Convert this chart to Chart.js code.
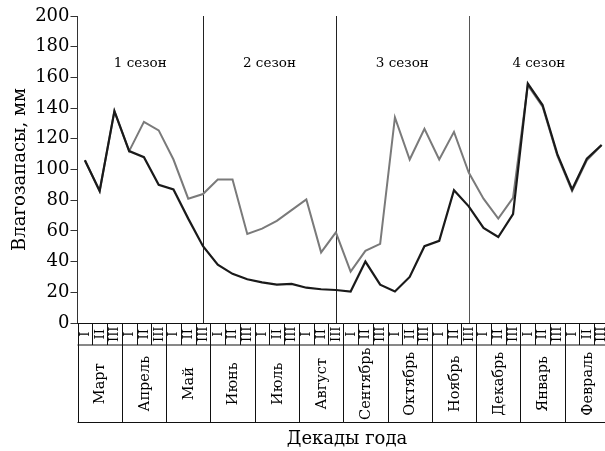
<!DOCTYPE html>
<html lang="ru">
<head>
<meta charset="utf-8">
<script src="https://cdn.jsdelivr.net/npm/chart.js@4.4.1/dist/chart.umd.min.js"></script>
<style>
  html, body { margin: 0; padding: 0; background: #fff; overflow: hidden; }
</style>
</head>
<body>
<canvas id="moistureChart" width="610" height="451"></canvas>
<script>
// Months of the hydrological year, starting from March
const months = ['Март', 'Апрель', 'Май', 'Июнь', 'Июль', 'Август',
  'Сентябрь', 'Октябрь', 'Ноябрь', 'Декабрь', 'Январь', 'Февраль'];
const decadeNames = ['I', 'II', 'III'];
const seasonNames = ['1 сезон', '2 сезон', '3 сезон', '4 сезон'];
// decade index where each season ends (divider line)
const seasonEnds = [8, 17, 26];

// moisture reserve, mm, by decade (36 values)
const reserveBlack = [106, 86, 138, 112, 108, 90, 87, 68, 50,
  38, 32, 28.5, 26.5, 25, 25.5, 23, 22, 21.5,
  20.5, 40, 25, 20.5, 30, 50, 53.5, 86.5, 76,
  62, 56, 71, 156, 142, 110, 87, 107, 116];
const reserveGray = [106, 86, 138, 112, 131, 125.5, 106.5, 81, 84,
  93.5, 93.5, 58, 61.5, 66.5, 73.5, 80.5, 46, 59,
  33.5, 47, 51.5, 134, 106.5, 126.5, 106.5, 124.5, 98,
  81, 68, 81.5, 155, 141, 109, 86, 106, 116];

const decadeLabels = [];
months.forEach(m => decadeNames.forEach(d => decadeLabels.push(m + ' ' + d)));

const serif = '"DejaVu Serif", serif';
Chart.defaults.font.family = serif;
Chart.defaults.color = '#000';

// season dividers and captions inside the plot
const seasonMarks = {
  id: 'seasonMarks',
  beforeDatasetsDraw(chart) {
    const { ctx, scales: { x, y } } = chart;
    ctx.save();
    ctx.lineWidth = 1;
    seasonEnds.forEach((idx, i) => {
      const px = Math.round(x.getPixelForValue(idx)) + 0.5;
      ctx.strokeStyle = i === 2 ? '#555' : '#222';
      ctx.beginPath();
      ctx.moveTo(px, y.getPixelForValue(200));
      ctx.lineTo(px, y.getPixelForValue(0));
      ctx.stroke();
    });
    const bounds = [x.left, ...seasonEnds.map(i => x.getPixelForValue(i)), x.right];
    ctx.font = '13.5px ' + serif;
    ctx.fillStyle = '#000';
    ctx.textAlign = 'center';
    ctx.textBaseline = 'middle';
    seasonNames.forEach((name, i) => {
      ctx.fillText(name, (bounds[i] + bounds[i + 1]) / 2, y.top + 47);
    });
    ctx.restore();
  }
};

// table of decades and months under the x axis
const decadeTable = {
  id: 'decadeTable',
  afterDraw(chart) {
    const { ctx, scales: { x, y } } = chart;
    const w = x.width / decadeLabels.length;
    const top = Math.round(y.bottom) + 0.5;
    const mid = top + 21.5;
    const bottom = top + 99;
    ctx.save();
    ctx.strokeStyle = '#111';
    ctx.lineWidth = 1;
    ctx.beginPath();
    [top, mid, bottom].forEach(yy => {
      ctx.moveTo(x.left, yy);
      ctx.lineTo(x.right, yy);
    });
    for (let k = 0; k <= decadeLabels.length; k++) {
      const px = Math.round(x.left + k * w) + 0.5;
      ctx.moveTo(px, top);
      ctx.lineTo(px, k % 3 === 0 ? bottom : mid);
    }
    ctx.stroke();

    ctx.fillStyle = '#000';
    ctx.textAlign = 'center';
    ctx.textBaseline = 'middle';
    decadeLabels.forEach((label, i) => {
      ctx.save();
      ctx.translate(x.getPixelForValue(i), (top + mid) / 2);
      ctx.rotate(-Math.PI / 2);
      ctx.font = '13px ' + serif;
      ctx.fillText(decadeNames[i % 3], 0, 0.5);
      ctx.restore();
    });
    months.forEach((m, i) => {
      ctx.save();
      ctx.translate(x.left + (i * 3 + 1.5) * w, (mid + bottom) / 2);
      ctx.rotate(-Math.PI / 2);
      ctx.font = '14.5px ' + serif;
      ctx.fillText(m, 0, 1);
      ctx.restore();
    });

    ctx.font = '18px ' + serif;
    ctx.fillText('Декады года', 347, bottom + 17);
    ctx.restore();
  }
};

const ctx = document.getElementById('moistureChart').getContext('2d');
new Chart(ctx, {
  type: 'line',
  data: {
    labels: decadeLabels,
    datasets: [
      {
        label: 'black',
        data: reserveBlack,
        borderColor: '#1a1a1a',
        borderWidth: 2.2,
        pointRadius: 0,
        tension: 0,
        order: 0
      },
      {
        label: 'gray',
        data: reserveGray,
        borderColor: '#7a7a7a',
        borderWidth: 2,
        pointRadius: 0,
        tension: 0,
        order: 1
      }
    ]
  },
  options: {
    responsive: false,
    animation: false,
    devicePixelRatio: 1,
    layout: { padding: { top: 16, bottom: 128, left: 0, right: 1 } },
    plugins: {
      legend: { display: false },
      tooltip: { enabled: false }
    },
    scales: {
      x: {
        type: 'category',
        display: false,
        offset: true
      },
      y: {
        min: 0,
        max: 200,
        ticks: {
          stepSize: 20,
          padding: 1,
          color: '#000',
          font: { family: serif, size: 18 }
        },
        grid: {
          drawOnChartArea: false,
          drawTicks: true,
          tickLength: 7,
          color: '#333'
        },
        border: { color: '#333', width: 1 },
        title: {
          display: true,
          text: 'Влагозапасы, мм',
          color: '#000',
          font: { family: serif, size: 18 },
          padding: { top: 10, bottom: 0 }
        },
        afterFit(scale) {
          scale.width = 77.5;
        }
      }
    }
  },
  plugins: [seasonMarks, decadeTable]
});
</script>
</body>
</html>
